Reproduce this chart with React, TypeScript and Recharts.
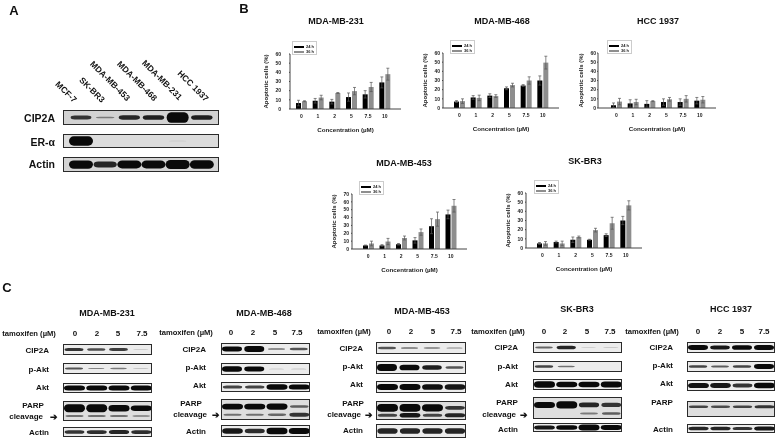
import React from "react";
import { BarChart, Bar, XAxis, YAxis, ErrorBar, Legend } from "recharts";

// ---------- Panel B data ----------
const concentrations = ["0", "1", "2", "5", "7.5", "10"];
const mb231v24 = [6.5, 9, 8, 13, 16, 29];
const mb231e24 = [3, 2.5, 2.5, 4.5, 4, 6];
const mb231v36 = [8.5, 12.5, 17.5, 19.5, 24, 38];
const mb231e36 = [0.5, 2.5, 0.5, 4, 5, 6.5];
const mb468v24 = [7, 11.5, 13.5, 21.5, 24.5, 30];
const mb468e24 = [1, 2, 2, 1.5, 1, 5];
const mb468v36 = [7.5, 11, 13, 25, 30, 49.5];
const mb468e36 = [2.5, 3, 1.5, 2, 4, 7];
const hccv24 = [3, 5, 4.5, 6.5, 6.5, 8];
const hcce24 = [2.5, 4, 3.5, 3.5, 3.5, 3.5];
const hccv36 = [7, 6.5, 7.5, 9.5, 10, 9];
const hcce36 = [3.5, 3, 0.5, 2, 3.5, 3.5];
const mb453v24 = [4.5, 4.5, 6, 11, 29, 44];
const mb453e24 = [0.5, 1, 1, 3.5, 9.5, 5.5];
const mb453v36 = [7, 9.5, 14, 21.5, 38, 55];
const mb453e36 = [3, 4, 2.5, 4, 9, 8];
const skv24 = [5, 6.5, 9, 9, 14, 30];
const ske24 = [1, 1, 3, 0.5, 1.5, 4.5];
const skv36 = [5, 5, 12, 19.5, 27, 46.5];
const ske36 = [2, 2.5, 1, 2, 6.5, 5];
const ticks60 = [0, 10, 20, 30, 40, 50, 60];
const ticks70 = [0, 10, 20, 30, 40, 50, 60, 70];

// ---------- Panel A data (band strength per lane) ----------
const lanesA = ["MCF-7", "SK-BR3", "MDA-MB-453", "MDA-MB-468", "MDA-MB-231", "HCC 1937"];
const aCip2a = [0.7, 0.3, 0.8, 0.85, 1.9, 0.85];
const aEr = [1.6, 0, 0, 0, 0.06, 0];
const aActin = [1.1, 0.8, 1.05, 1.05, 1.2, 1.15];

// ---------- Panel C data (band strength per lane) ----------
const doses = ["0", "2", "5", "7.5"];
const c231Cip = [0.7, 0.55, 0.65, 0.1];
const c231P = [0.5, 0.25, 0.3, 0.15];
const c231Akt = [1, 1, 1, 1];
const c231Up = [1.5, 1.5, 1.2, 1];
const c231Lo = [0.35, 0.35, 0.35, 0.3];
const c231Actin = [0.7, 0.75, 0.8, 0.75];
const c468Cip = [1, 1.2, 0.35, 0.5];
const c468P = [1.1, 1, 0.1, 0.15];
const c468Akt = [0.6, 0.6, 1.1, 1];
const c468Up = [1, 1, 1.1, 0.45];
const c468Lo = [0.35, 0.35, 0.4, 0.7];
const c468Actin = [0.9, 0.75, 1.1, 1];
const c453Cip = [0.5, 0.35, 0.3, 0.25];
const c453P = [1.3, 1.1, 0.85, 0.5];
const c453Akt = [1, 1, 0.95, 0.9];
const c453Up = [1.5, 1.5, 1.4, 0.7];
const c453Lo = [0.6, 0.9, 0.6, 0.8];
const c453Actin = [0.8, 0.8, 0.8, 0.8];
const cSkCip = [0.4, 0.8, 0.08, 0.12];
const cSkP = [0.6, 0.35, 0.03, 0.03];
const cSkAkt = [1.2, 1, 1, 1.1];
const cSkUp = [1, 1.2, 0.8, 0.7];
const cSkLo = [0.03, 0.03, 0.3, 0.45];
const cSkActin = [0.9, 1, 1.3, 1.1];
const cHccCip = [1.1, 0.9, 1.05, 1.15];
const cHccP = [0.6, 0.45, 0.6, 1.1];
const cHccAkt = [0.95, 0.9, 0.7, 1];
const cHccUp = [0.6, 0.55, 0.6, 0.7];
const cHccLo = [0, 0, 0, 0.02];
const cHccActin = [0.8, 0.8, 0.7, 0.9];

const FONT = '"Liberation Sans", Arial, sans-serif';

function T({ x, y, size = 8, anchor = "middle", rot = 0, children }: any) {
  const tx = anchor === "middle" ? "-50%" : anchor === "end" ? "-100%" : "0";
  return (
    <div
      style={{
        position: "absolute",
        left: x,
        top: y,
        fontFamily: FONT,
        fontWeight: 700,
        fontSize: size,
        lineHeight: 1,
        color: "#111",
        whiteSpace: "nowrap",
        transform: `translate(${tx},-50%) rotate(${rot}deg)`,
      }}
    >
      {children}
    </div>
  );
}

function LegendBox({ payload }: any) {
  return (
    <div style={{ border: "1px solid #ccc", background: "#fff", width: 25, height: 14, boxSizing: "border-box", paddingTop: 2 }}>
      {(payload || []).map((p: any) => (
        <div key={p.value} style={{ display: "flex", alignItems: "center", height: 5, paddingLeft: 1 }}>
          <div style={{ width: 10, height: 2, background: p.color, marginRight: 2 }} />
          <span style={{ fontFamily: FONT, fontWeight: 700, fontSize: 4, color: "#222", lineHeight: 1 }}>{p.value}</span>
        </div>
      ))}
    </div>
  );
}

function ApoptosisChart({ title, titleX, titleY, axisX, xEnd, y0, yTop, ymax, ticks, v24, e24, v36, e36, tickGap, yLabelOff, padL, padR, legX, labelY }: any) {
  const rows = concentrations.map((c, i) => ({ c, a: v24[i], b: v36[i], ae: e24[i], be: e36[i] }));
  const W = 30 + (xEnd - axisX);
  const H = 4 + (y0 - yTop) + 30;
  return (
    <>
      <T x={titleX} y={titleY} size={9}>{title}</T>
      <div style={{ position: "absolute", left: axisX - 30, top: yTop - 4 }}>
        <BarChart width={W} height={H} data={rows} margin={{ top: 4, right: 0, bottom: 0, left: 0 }} barSize={5} barGap={1}>
          <XAxis
            dataKey="c"
            height={30}
            padding={{ left: padL, right: padR }}
            interval={0}
            tickSize={0}
            tickMargin={5}
            stroke="#444"
            tick={{ fontSize: 5, fontWeight: 700, fontFamily: FONT, fill: "#222" }}
            label={{ value: "Concentration (µM)", position: "insideBottom", offset: labelY, fontSize: 6.2, fontWeight: 700, fontFamily: FONT, fill: "#222" }}
          />
          <YAxis
            width={30}
            domain={[0, ymax]}
            ticks={ticks}
            interval={0}
            tickSize={1}
            tickMargin={tickGap}
            stroke="#444"
            tick={{ fontSize: 5, fontWeight: 700, fontFamily: FONT, fill: "#222" }}
            label={{ value: "Apoptotic cells (%)", angle: -90, position: "insideLeft", offset: yLabelOff, fontSize: 6, fontWeight: 700, fontFamily: FONT, fill: "#222", style: { textAnchor: "middle" } }}
          />
          <Legend
            verticalAlign="top"
            align="left"
            content={<LegendBox />}
            wrapperStyle={{ position: "absolute", left: 30 + legX, top: 5, width: 26 }}
          />
          <Bar dataKey="a" name="24 h" fill="#000" isAnimationActive={false}>
            <ErrorBar dataKey="ae" width={1.5} stroke="#555" strokeWidth={0.7} isAnimationActive={false} />
          </Bar>
          <Bar dataKey="b" name="36 h" fill="#8e8e8e" isAnimationActive={false}>
            <ErrorBar dataKey="be" width={1.5} stroke="#555" strokeWidth={0.7} isAnimationActive={false} />
          </Bar>
        </BarChart>
      </div>
    </>
  );
}

const bandFill = (s: number) => {
  const g = Math.round(228 - 218 * Math.pow(Math.min(1, s), 0.6));
  return `rgb(${g},${g},${g})`;
};

const bandShape = (key: string) => (p: any) => {
  const s = p.payload[key];
  if (!s || !p.height) return <g />;
  const w = p.width * (0.65 + 0.35 * Math.sqrt(Math.min(s, 1)));
  const h = Math.abs(p.height);
  return (
    <rect
      x={p.x + (p.width - w) / 2}
      y={Math.min(p.y, p.y + p.height)}
      width={w}
      height={h}
      rx={w / 5}
      ry={h / 2}
      fill={bandFill(s)}
      style={{ filter: "blur(0.5px)" }}
    />
  );
};

function Blot({ x, y, w, h, lanes, upper, lower, center = 0.5, unit = 0.4, bandW, padL = 0, padR = 0, bg = "#ececec" }: any) {
  const clamp = (v: number) => Math.max(0, Math.min(1, v));
  const rows = lanes.map((lane: string, i: number) => ({
    lane,
    su: upper[i],
    sl: lower ? lower[i] : 0,
    u: [clamp(center - (unit * upper[i]) / 2), clamp(center + (unit * upper[i]) / 2)],
    l: lower ? [clamp(0.25 - (unit * lower[i]) / 2), clamp(0.25 + (unit * lower[i]) / 2)] : [0, 0],
  }));
  return (
    <div style={{ position: "absolute", left: x, top: y, width: w, height: h, background: bg }}>
      <BarChart width={w} height={h} data={rows} margin={{ top: 0, right: 0, bottom: 0, left: 0 }} barSize={bandW} barGap={-bandW}>
        <XAxis dataKey="lane" hide padding={{ left: padL, right: padR }} />
        <YAxis hide domain={[0, 1]} />
        <Bar dataKey="u" isAnimationActive={false} shape={bandShape("su")} />
        {lower ? <Bar dataKey="l" isAnimationActive={false} shape={bandShape("sl")} /> : null}
      </BarChart>
      <div style={{ position: "absolute", inset: 0, border: "1px solid #2a2a2a", boxSizing: "border-box" }} />
    </div>
  );
}

function PanelC({ title, titleX, titleY, tamX, tamY, doseX, boxX, boxW, labelEnd, parpX, arrowX, cleavageEnd, rowsY, labelsY, data, hasCleavage = true }: any) {
  return (
    <>
      <T x={titleX} y={titleY} size={9}>{title}</T>
      <T x={tamX} y={tamY} size={7.6}>tamoxifen (µM)</T>
      {doses.map((d, i) => (
        <T key={d} x={doseX[i]} y={tamY} size={8}>{d}</T>
      ))}
      <T x={labelEnd} y={labelsY[0]} anchor="end">CIP2A</T>
      <T x={labelEnd} y={labelsY[1]} anchor="end">p-Akt</T>
      <T x={labelEnd} y={labelsY[2]} anchor="end">Akt</T>
      <T x={parpX} y={labelsY[3]}>PARP</T>
      {hasCleavage ? <T x={cleavageEnd} y={labelsY[4]} anchor="end">cleavage</T> : null}
      {hasCleavage ? <T x={arrowX} y={labelsY[4]} size={9}>➔</T> : null}
      <T x={labelEnd} y={labelsY[5]} anchor="end">Actin</T>
      <Blot x={boxX} y={rowsY[0][0]} w={boxW} h={rowsY[0][1]} lanes={doses} upper={data[0]} bandW={20} />
      <Blot x={boxX} y={rowsY[1][0]} w={boxW} h={rowsY[1][1]} lanes={doses} upper={data[1]} bandW={20} />
      <Blot x={boxX} y={rowsY[2][0]} w={boxW} h={rowsY[2][1]} lanes={doses} upper={data[2]} unit={0.5} bandW={21} />
      <Blot x={boxX} y={rowsY[3][0]} w={boxW} h={rowsY[3][1]} lanes={doses} upper={data[3]} lower={data[4]} center={0.64} unit={0.27} bandW={21} bg="#dedede" />
      <Blot x={boxX} y={rowsY[4][0]} w={boxW} h={rowsY[4][1]} lanes={doses} upper={data[5]} unit={0.5} bandW={21} />
    </>
  );
}

export default function App() {
  return (
    <div style={{ position: "absolute", left: 0, top: 0, width: 778, height: 441, background: "#fff", overflow: "hidden", filter: "blur(0.4px)" }}>
      <T x={14} y={10} size={13}>A</T>
      <T x={244} y={8} size={13}>B</T>
      <T x={7} y={287} size={13}>C</T>

      {/* Panel A */}
      <T x={66} y={92} size={8.5} rot={45}>{lanesA[0]}</T>
      <T x={92} y={90} size={8.5} rot={45}>{lanesA[1]}</T>
      <T x={110} y={81} size={8.5} rot={45}>{lanesA[2]}</T>
      <T x={137} y={81} size={8.5} rot={45}>{lanesA[3]}</T>
      <T x={162} y={80} size={8.5} rot={45}>{lanesA[4]}</T>
      <T x={193} y={86} size={8.5} rot={45}>{lanesA[5]}</T>
      <T x={55} y={118} size={10.5} anchor="end">CIP2A</T>
      <T x={55} y={142} size={10.5} anchor="end">ER-α</T>
      <T x={55} y={164} size={10.5} anchor="end">Actin</T>
      <Blot x={63} y={110} w={156} h={15} lanes={lanesA} upper={aCip2a} unit={0.36} bandW={22} padL={6} padR={5} bg="#d2d2d2" />
      <Blot x={63} y={134} w={156} h={14} lanes={lanesA} upper={aEr} unit={0.42} bandW={24} padL={6} padR={5} bg="#dcdcdc" />
      <Blot x={63} y={157} w={156} h={15} lanes={lanesA} upper={aActin} unit={0.5} bandW={24} padL={6} padR={5} bg="#d4d4d4" />

      {/* Panel B */}
      <ApoptosisChart title="MDA-MB-231" titleX={336} titleY={21} axisX={290} xEnd={401} y0={109} yTop={40} ymax={60} ticks={ticks60}
        v24={mb231v24} e24={mb231e24} v36={mb231v36} e36={mb231e36} tickGap={8} yLabelOff={6} padL={3} padR={8} legX={2} labelY={7} />
      <ApoptosisChart title="MDA-MB-468" titleX={502} titleY={21} axisX={443} xEnd={559} y0={108} yTop={39} ymax={60} ticks={ticks60}
        v24={mb468v24} e24={mb468e24} v36={mb468v36} e36={mb468e36} tickGap={2} yLabelOff={12} padL={8} padR={8} legX={7} labelY={7} />
      <ApoptosisChart title="HCC 1937" titleX={658} titleY={21} axisX={598} xEnd={716} y0={108} yTop={39} ymax={60} ticks={ticks60}
        v24={hccv24} e24={hcce24} v36={hccv36} e36={hcce36} tickGap={1} yLabelOff={13} padL={10} padR={8} legX={9} labelY={7} />
      <ApoptosisChart title="MDA-MB-453" titleX={404} titleY={163} axisX={352} xEnd={467} y0={249} yTop={180} ymax={70} ticks={ticks70}
        v24={mb453v24} e24={mb453e24} v36={mb453v36} e36={mb453e36} tickGap={2} yLabelOff={12} padL={8} padR={8} legX={7} labelY={7} />
      <ApoptosisChart title="SK-BR3" titleX={585} titleY={161} axisX={526} xEnd={642} y0={248} yTop={179} ymax={60} ticks={ticks60}
        v24={skv24} e24={ske24} v36={skv36} e36={ske36} tickGap={2} yLabelOff={12} padL={8} padR={8} legX={8} labelY={7} />

      {/* Panel C */}
      <PanelC title="MDA-MB-231" titleX={107} titleY={313} tamX={29} tamY={334} doseX={[75, 97, 118, 142]} boxX={63} boxW={89}
        labelEnd={49} parpX={33} cleavageEnd={43} arrowX={54} labelsY={[351, 370, 388, 406, 417, 433]}
        rowsY={[[344, 11], [363, 11], [383, 10], [401, 20], [427, 10]]}
        data={[c231Cip, c231P, c231Akt, c231Up, c231Lo, c231Actin]} />
      <PanelC title="MDA-MB-468" titleX={264} titleY={313} tamX={186} tamY={333} doseX={[231, 253, 275, 297]} boxX={221} boxW={89}
        labelEnd={206} parpX={191} cleavageEnd={207} arrowX={216} labelsY={[350, 368, 386, 404, 415, 432]}
        rowsY={[[343, 12], [363, 12], [382, 10], [399, 21], [425, 12]]}
        data={[c468Cip, c468P, c468Akt, c468Up, c468Lo, c468Actin]} />
      <PanelC title="MDA-MB-453" titleX={422} titleY={311} tamX={344} tamY={332} doseX={[389, 411, 433, 456]} boxX={376} boxW={90}
        labelEnd={363} parpX={353} cleavageEnd={361} arrowX={369} labelsY={[349, 367, 385, 404, 415, 431]}
        rowsY={[[342, 12], [361, 13], [381, 12], [401, 19], [424, 14]]}
        data={[c453Cip, c453P, c453Akt, c453Up, c453Lo, c453Actin]} />
      <PanelC title="SK-BR3" titleX={577} titleY={309} tamX={498} tamY={332} doseX={[544, 565, 587, 610]} boxX={533} boxW={89}
        labelEnd={518} parpX={507} cleavageEnd={516} arrowX={524} labelsY={[348, 367, 385, 403, 415, 430]}
        rowsY={[[342, 11], [361, 11], [379, 11], [397, 22], [423, 9]]}
        data={[cSkCip, cSkP, cSkAkt, cSkUp, cSkLo, cSkActin]} />
      <PanelC title="HCC 1937" titleX={731} titleY={309} tamX={652} tamY={332} doseX={[698, 720, 742, 764]} boxX={687} boxW={88}
        labelEnd={673} parpX={662} hasCleavage={false} labelsY={[348, 366, 384, 403, 415, 430]}
        rowsY={[[342, 11], [361, 11], [380, 11], [401, 16], [424, 9]]}
        data={[cHccCip, cHccP, cHccAkt, cHccUp, cHccLo, cHccActin]} />
    </div>
  );
}
